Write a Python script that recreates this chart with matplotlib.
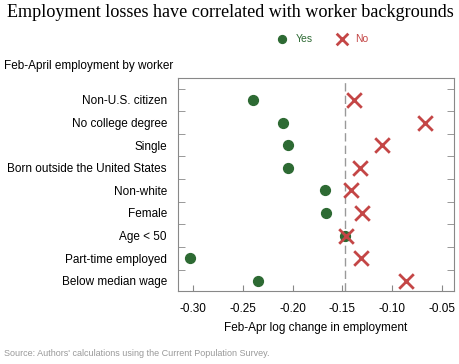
import matplotlib
matplotlib.use("Agg")
import matplotlib.pyplot as plt
import numpy as np

categories = ["Non-U.S. citizen", "No college degree", "Single",
              "Born outside the United States", "Non-white", "Female",
              "Age < 50", "Part-time employed", "Below median wage"]
yes_vals = [-0.240, -0.210, -0.205, -0.205, -0.167, -0.166, -0.147, -0.303, -0.235]
no_vals = [-0.138, -0.067, -0.110, -0.132, -0.141, -0.130, -0.146, -0.131, -0.086]
overall = -0.147
xticks = [-0.30, -0.25, -0.20, -0.15, -0.10, -0.05]

green = "#2d6a33"
red = "#c44646"
gray = "#888888"

plt.rcParams['font.family'] = ['Liberation Sans', 'DejaVu Sans']

fig = plt.figure(figsize=(4.6, 3.64), dpi=100)
ax = fig.add_axes([178 / 460, 1 - 291 / 364, 276 / 460, 213 / 364])

y = np.arange(len(categories))
ax.axvline(overall, color="#999999", linestyle=(0, (6, 3)), linewidth=1, zorder=1)
ax.scatter(yes_vals, y, s=50, color=green, marker="o", zorder=3, label="Yes")
ax.scatter(no_vals, y, s=110, color=red, marker="x", linewidths=2, zorder=4, label="No")

ax.set_xlim(-0.3154, -0.0376)
ax.set_ylim(8.45, -0.97)
ax.set_xticks(xticks)
ax.set_xticklabels([f"{v:.2f}" for v in xticks], fontsize=8.5)
ax.set_yticks(y)
ax.set_yticklabels(categories, fontsize=8.5)
ax.tick_params(axis="y", length=0, pad=8)
ax.set_yticks(np.arange(-0.5, 8.0, 1.0), minor=True)
ax.tick_params(axis="y", which="minor", direction="in", length=5, color=gray,
               left=True, right=True)
ax.tick_params(axis="x", direction="in", length=4, color=gray, pad=9)
for s in ax.spines.values():
    s.set_color(gray)
ax.set_xlabel("Feb-Apr log change in employment", fontsize=8.5, labelpad=5)

title = fig.text(0.5, 1 - 4 / 364, "Employment losses have correlated with worker backgrounds",
                 ha="center", va="top", fontsize=14, family="Liberation Serif")
fig.canvas.draw()
w = title.get_window_extent().width
title.set_fontsize(14 * 450 / w)

fig.text(4 / 460, 1 - 66 / 364, "Feb-April employment by worker", ha="left",
         va="center", fontsize=8.5)
fig.text(4 / 460, 1 - 353 / 364,
         "Source: Authors' calculations using the Current Population Survey.",
         ha="left", va="center", fontsize=6.5, color="#999999")

leg = ax.legend(loc="lower left", bbox_to_anchor=(262 / 460, 1 - 53 / 364),
                bbox_transform=fig.transFigure, ncol=2, frameon=False,
                fontsize=7.5, handletextpad=0.3, columnspacing=1.8,
                markerscale=0.8)
for txt, c in zip(leg.get_texts(), [green, red]):
    txt.set_color(c)

fig.savefig("out.png", dpi=100)
